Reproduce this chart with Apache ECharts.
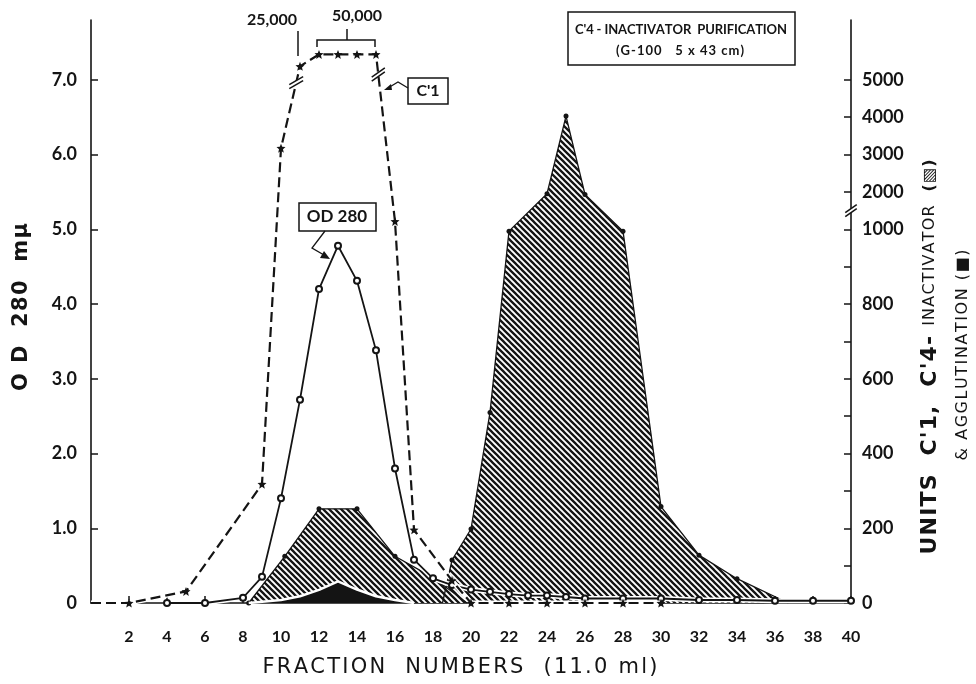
<!DOCTYPE html>
<html><head><meta charset="utf-8">
<script src="https://cdn.jsdelivr.net/npm/echarts@6/dist/echarts.min.js"></script>
<style>html,body{margin:0;padding:0;background:#fff}#c{width:976px;height:684px}</style>
</head><body><div id="c"></div>
<script>
// ---------- tick labels ----------
const fractionTicks = [2,4,6,8,10,12,14,16,18,20,22,24,26,28,30,32,34,36,38,40];
const odTicks = [0,1,2,3,4,5,6,7];
const unitLabels = [0,200,400,600,800,1000,2000,3000,4000,5000];
const unitTicks = [0,100,200,300,400,500,600,700,800,900,1000,2000,3000,4000,5000];

// ---------- OD 280 (open circles) ----------
const odFractions = [4,6,8,9,10,11,12,13,14,15,16,17,18,19,20,21,22,23,24,25,26,28,30,32,34,36,38,40];
const odValues    = [0,0,0.07,0.35,1.40,2.72,4.20,4.78,4.31,3.38,1.80,0.58,0.33,0.24,0.18,0.15,0.12,0.10,0.10,0.08,0.06,0.06,0.06,0.04,0.04,0.03,0.03,0.03];

// ---------- C'1 units (stars, dashed) ----------
const c1Fractions = [0,2,5,9,10,11,12,13,14,15,16,17,19,20,22,24,26,28,30];
const c1Units     = [0,0,31,318,3170,25000,50000,50000,50000,50000,1210,196,60,0,0,0,0,0,0];

// ---------- C'4-inactivator units (hatched) ----------
const inh1Fractions = [8.3,10.2,12,14,16,18,19.8];
const inh1Units     = [0,125,252,252,125,68,0];
const inh2Fractions = [18.5,19,20,21,22,24,25,26,28,30,32,34,36.7];
const inh2Units     = [0,115,198,510,995,1950,4030,1930,995,258,128,65,0];

// ---------- agglutination units (black) ----------
const aggFractions = [8.3,10,11,12,13,14,15,16,17];
const aggUnits     = [0,8,18,35,58,36,18,8,0];

// ---------- broken right-axis scale (units -> axis position) ----------
const knots = [[0,0],[1000,1000],[2000,1100],[5000,1400],[25000,1436],[50000,1468]];
function toAxis(u){
  for(let i=1;i<knots.length;i++){
    const [u0,d0]=knots[i-1],[u1,d1]=knots[i];
    if(u<=u1) return d0+(u-u0)*(d1-d0)/(u1-u0);
  }
  return knots[knots.length-1][1];
}
function fromAxis(d){
  for(let i=1;i<knots.length;i++){
    const [u0,d0]=knots[i-1],[u1,d1]=knots[i];
    if(d<=d1+1e-9) return u0+(d-d0)*(u1-u0)/(d1-d0);
  }
  return knots[knots.length-1][0];
}

const F = 'Lato, "DejaVu Sans", sans-serif';
const DV = '"DejaVu Sans", sans-serif';
const INK = '#141414';

function hatchCanvas(){
  const s=6;
  const c=document.createElement('canvas'); c.width=s; c.height=s;
  const g=c.getContext('2d');
  g.fillStyle='#fff'; g.fillRect(0,0,s,s);
  g.strokeStyle=INK; g.lineWidth=2.3; g.lineCap='square';
  g.beginPath();
  g.moveTo(-1,-1); g.lineTo(s+1,s+1);
  g.moveTo(-s-1,-1); g.lineTo(1,s+1);
  g.moveTo(s-1,-1); g.lineTo(2*s+1,s+1);
  g.stroke();
  return c;
}
const hatch = {image: hatchCanvas(), repeat:'repeat'};
const STAR = 'path://M0,-10 L2.6,-3.6 9.5,-3.1 4.2,1.4 5.9,8.1 0,4.4 -5.9,8.1 -4.2,1.4 -9.5,-3.1 -2.6,-3.6Z';

const zip = (xs, ys, f) => xs.map((x,i)=>[x, f ? f(ys[i]) : ys[i]]);
const dots = (xs, ys, f) => xs.map((x,i)=>({value:[x, f ? f(ys[i]) : ys[i]]}));

const chart = echarts.init(document.getElementById('c'));
const leftMax = 7.8;
const inh2Data = dots(inh2Fractions, inh2Units, toAxis);
inh2Data[0].symbol='none'; inh2Data[inh2Data.length-1].symbol='none';
const inh1Data = dots(inh1Fractions, inh1Units, toAxis);
inh1Data[inh1Data.length-1].symbol='none';

const option = {
  animation:false,
  backgroundColor:'#fff',
  grid:{left:91, right:125, top:20, bottom:81},
  xAxis:{
    type:'value', min:0, max:40, interval:2, offset:16,
    axisLine:{lineStyle:{color:INK, width:1.6}},
    axisTick:{inside:true, length:7, customValues:fractionTicks, lineStyle:{color:INK, width:1.5}},
    axisLabel:{customValues:fractionTicks, margin:10, color:INK, fontFamily:F, fontSize:16, fontWeight:'bold'},
    splitLine:{show:false}
  },
  yAxis:[
    {type:'value', min:0, max:leftMax, position:'left',
     axisLine:{show:true, lineStyle:{color:INK, width:1.6}},
     axisTick:{show:true, inside:true, length:7, customValues:odTicks, lineStyle:{color:INK, width:1.5}},
     axisLabel:{customValues:odTicks, margin:14, color:INK, fontFamily:F, fontSize:18, fontWeight:'bold',
       formatter:v=> v===0 ? '0' : v.toFixed(1)},
     splitLine:{show:false}},
    {type:'value', min:0, max:leftMax*200, position:'right',
     axisLine:{show:true, lineStyle:{color:INK, width:1.6}},
     axisTick:{show:true, inside:true, length:7, customValues:unitTicks.map(toAxis), lineStyle:{color:INK, width:1.5}},
     axisLabel:{customValues:unitLabels.map(toAxis), margin:11, color:INK, fontFamily:F, fontSize:18, fontWeight:'bold',
       formatter:v=> String(Math.round(fromAxis(v)))},
     splitLine:{show:false}}
  ],
  series:[
    {name:'C\'4-inactivator (1)', type:'line', yAxisIndex:1, z:1,
     data:inh1Data, symbol:'circle', symbolSize:5, itemStyle:{color:INK},
     lineStyle:{color:INK, width:1.3}, areaStyle:{color:hatch, opacity:1}},
    {name:'C\'4-inactivator (2)', type:'line', yAxisIndex:1, z:1,
     data:inh2Data, symbol:'circle', symbolSize:5, itemStyle:{color:INK},
     lineStyle:{color:INK, width:1.3}, areaStyle:{color:hatch, opacity:1}},
    {name:'agglutination', type:'line', yAxisIndex:1, z:2,
     data:zip(aggFractions, aggUnits, toAxis),
     symbol:'none', lineStyle:{color:'#fff', width:2.5}, areaStyle:{color:INK, opacity:1}},
    {name:'OD halo', type:'line', yAxisIndex:0, z:3, silent:true,
     data:zip(odFractions, odValues), symbol:'none', lineStyle:{color:'#fff', width:5}},
    {name:'OD 280', type:'line', yAxisIndex:0, z:4,
     data:zip(odFractions, odValues),
     symbol:'emptyCircle', symbolSize:6,
     itemStyle:{color:INK, borderColor:INK, borderWidth:1.3},
     lineStyle:{color:INK, width:1.8}},
    {name:'C1 halo', type:'line', yAxisIndex:1, z:5, silent:true,
     data:zip(c1Fractions, c1Units, toAxis), symbol:'none', lineStyle:{color:'#fff', width:5}},
    {name:'C\'1', type:'line', yAxisIndex:1, z:6,
     data:c1Fractions.map((x,i)=> i===0 ? {value:[x,toAxis(c1Units[i])], symbol:'none'} : [x,toAxis(c1Units[i])]),
     symbol:STAR, symbolSize:9, itemStyle:{color:INK},
     lineStyle:{color:INK, width:2.2, type:[10,5]}}
  ]
};
chart.setOption(option);

// ---------- annotations ----------
function breakMark(cx, cy, angDeg, len, gap){
  const a=angDeg*Math.PI/180, ux=Math.cos(a)*len/2, uy=-Math.sin(a)*len/2;
  const oy=gap/2;
  return [
    {type:'polygon', z:100, shape:{points:[[cx-ux,cy-uy-oy],[cx+ux,cy+uy-oy],[cx+ux,cy+uy+oy],[cx-ux,cy-uy+oy]]}, style:{fill:'#fff'}},
    {type:'line', z:101, shape:{x1:cx-ux,y1:cy-uy-oy,x2:cx+ux,y2:cy+uy-oy}, style:{stroke:INK, lineWidth:1.5}},
    {type:'line', z:101, shape:{x1:cx-ux,y1:cy-uy+oy,x2:cx+ux,y2:cy+uy+oy}, style:{stroke:INK, lineWidth:1.5}}
  ];
}
function lerpPix(xa, ua, xb, ub, t){
  const p=chart.convertToPixel({xAxisIndex:0,yAxisIndex:1},[xa,toAxis(ua)]);
  const q=chart.convertToPixel({xAxisIndex:0,yAxisIndex:1},[xb,toAxis(ub)]);
  return [p[0]+(q[0]-p[0])*t, p[1]+(q[1]-p[1])*t];
}
const axBreak = chart.convertToPixel({xAxisIndex:0,yAxisIndex:1},[40,1050]);
const b1 = lerpPix(10,3170,11,25000,0.8);
const b2 = lerpPix(15,50000,16,1210,0.12);
const T = (x,y,text,font)=>({type:'text', z:120, x, y,
  style:{text, font, fill:INK, textAlign:'center', textVerticalAlign:'middle'}});

// letter-spaced text spread over a given length (for the wide titles)
const mctx = document.createElement('canvas').getContext('2d');
function spaced(cx, cy, segs, width, rot){
  const chars=[];
  segs.forEach(s=>{ mctx.font=s.font; for(const ch of s.t){ chars.push({ch, font:s.font, w:mctx.measureText(ch).width}); } });
  const total=chars.reduce((a,c)=>a+c.w,0);
  const extra=(width-total)/(chars.length-1);
  let x=-width/2; const children=[];
  chars.forEach(c=>{
    if(c.ch!==' ') children.push({type:'text', z:120, x, y:0, style:{text:c.ch, font:c.font, fill:INK, textAlign:'left', textVerticalAlign:'middle'}});
    x+=c.w+extra;
  });
  return {type:'group', x:cx, y:cy, rotation:rot||0, z:120, children};
}

const g = [];
g.push(...breakMark(axBreak[0], axBreak[1], 35, 14, 4));
g.push(...breakMark(b1[0], b1[1], 30, 16, 4));
g.push(...breakMark(b2[0], b2[1], 35, 16, 4));

// axis titles
g.push(spaced(460, 668, [{t:'FRACTION  NUMBERS  (11.0 ml)', font:`21px ${DV}`}], 395, 0));
g.push(spaced(22, 307, [{t:'O D  280  mμ', font:`bold 21px ${DV}`}], 168, Math.PI/2));
g.push(spaced(930, 357, [
  {t:'UNITS  C\'1,  C\'4- ', font:`bold 22px ${DV}`},
  {t:'INACTIVATOR  ', font:`16px ${DV}`},
  {t:'(▧)', font:`bold 16px ${DV}`}], 395, Math.PI/2));
g.push(spaced(963, 355, [{t:'& AGGLUTINATION (■)', font:`16px ${DV}`}], 211, Math.PI/2));

// title box
g.push({type:'rect', z:110, shape:{x:568, y:12, width:227, height:53}, style:{fill:'#fff', stroke:INK, lineWidth:1.5}});
g.push(spaced(681, 30, [{t:'C\'4 - INACTIVATOR  PURIFICATION', font:`bold 13px ${F}`}], 212, 0));
g.push(spaced(680, 51, [{t:'(G-100   5 x 43 cm)', font:`bold 13px ${F}`}], 128, 0));

// 25,000 / 50,000 labels
g.push(T(272, 20, '25,000', `bold 16px ${F}`));
g.push(T(357, 16, '50,000', `bold 16px ${F}`));
g.push({type:'line', z:110, shape:{x1:298,y1:31,x2:298,y2:56}, style:{stroke:INK, lineWidth:1.5}});
g.push({type:'polyline', z:110, shape:{points:[[317,47],[317,40],[375,40],[375,47]]}, style:{stroke:INK, lineWidth:1.5, fill:null}});
g.push({type:'line', z:110, shape:{x1:347,y1:40,x2:347,y2:29}, style:{stroke:INK, lineWidth:1.5}});

// C'1 label box + leader
g.push({type:'rect', z:110, shape:{x:408, y:78, width:40, height:26}, style:{fill:'#fff', stroke:INK, lineWidth:1.5}});
g.push(T(428, 91, 'C\'1', `bold 16px ${F}`));
g.push({type:'polyline', z:110, shape:{points:[[408,88],[398,82],[388,88]]}, style:{stroke:INK, lineWidth:1.3, fill:null}});
g.push({type:'polygon', z:110, shape:{points:[[384,90],[391,84],[392,90]]}, style:{fill:INK}});

// OD 280 label box + leader
g.push({type:'rect', z:110, shape:{x:299, y:203, width:77, height:28}, style:{fill:'#fff', stroke:INK, lineWidth:1.5}});
g.push(T(337, 217, 'OD 280', `bold 17px ${F}`));
g.push({type:'polyline', z:110, shape:{points:[[325,231],[312,248],[324,255]]}, style:{stroke:INK, lineWidth:1.3, fill:null}});
g.push({type:'polygon', z:110, shape:{points:[[330,259],[320,258],[324,251]]}, style:{fill:INK}});

chart.setOption({graphic:g});
</script></body></html>
